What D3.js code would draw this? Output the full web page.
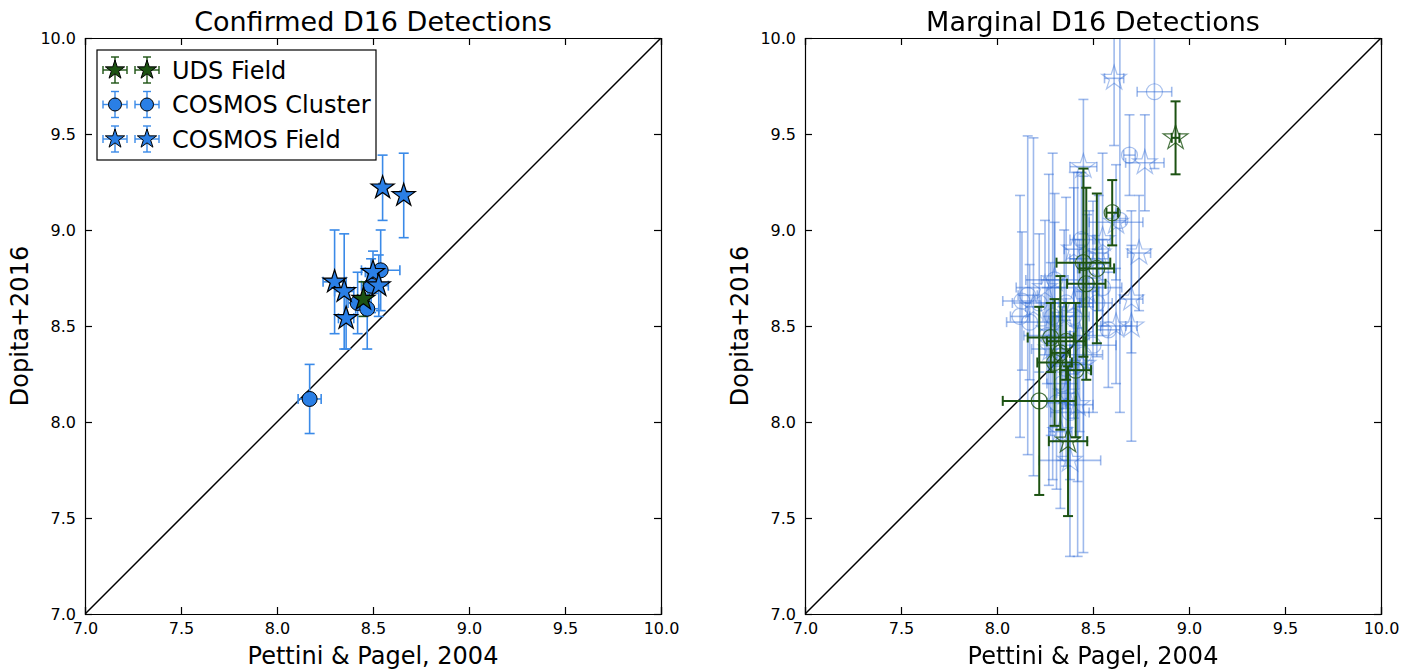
<!DOCTYPE html>
<html>
<head>
<meta charset="utf-8">
<script src="https://cdn.jsdelivr.net/npm/d3@7"></script>
<style>
  body { margin: 0; background: #fff; }
  svg text { font-family: "DejaVu Sans", sans-serif; fill: #000; }
</style>
</head>
<body>
<div id="chart"></div>
<script>
// Tick values shared by both panels
const tickValues = [7.0, 7.5, 8.0, 8.5, 9.0, 9.5, 10.0];

// Left panel: confirmed detections  [x, y, xerr, yerr]
const confUdsField = [
  [8.45, 8.64, 0.03, 0.09]
];
const confCosmosCluster = [
  [8.17, 8.12, 0.06, 0.18],
  [8.54, 8.79, 0.10, 0.21],
  [8.42, 8.62, 0.05, 0.16],
  [8.47, 8.59, 0.06, 0.21],
  [8.49, 8.71, 0.05, 0.14]
];
const confCosmosField = [
  [8.55, 9.22, 0.02, 0.17],
  [8.66, 9.18, 0.02, 0.22],
  [8.30, 8.73, 0.06, 0.27],
  [8.35, 8.68, 0.05, 0.30],
  [8.36, 8.54, 0.04, 0.16],
  [8.50, 8.78, 0.04, 0.11],
  [8.53, 8.71, 0.05, 0.16]
];

// Right panel: marginal detections  [x, y, xerr, yerr]
const margUdsCircles = [
  [8.60, 9.09, 0.03, 0.17],
  [8.45, 8.83, 0.14, 0.49],
  [8.52, 8.80, 0.09, 0.39],
  [8.465, 8.72, 0.10, 0.50],
  [8.28, 8.44, 0.12, 0.18],
  [8.36, 8.42, 0.10, 0.20],
  [8.30, 8.31, 0.09, 0.33],
  [8.41, 8.27, 0.08, 0.35],
  [8.22, 8.11, 0.19, 0.49],
  [8.33, 8.36, 0.05, 0.40]
];
const margUdsStars = [
  [8.93, 9.48, 0.02, 0.19],
  [8.37, 7.90, 0.10, 0.39]
];
const margCosmosCluster = [
  [8.82, 9.72, 0.09, 0.40],
  [8.69, 9.39, 0.03, 0.21],
  [8.55, 8.70, 0.10, 0.25],
  [8.13, 8.63, 0.10, 0.36],
  [8.17, 8.52, 0.12, 0.30],
  [8.30, 8.74, 0.15, 0.30],
  [8.22, 8.62, 0.14, 0.36],
  [8.40, 8.55, 0.08, 0.30],
  [8.44, 8.95, 0.06, 0.35],
  [8.48, 8.85, 0.10, 0.25],
  [8.34, 8.20, 0.08, 0.40],
  [8.38, 8.05, 0.10, 0.35],
  [8.26, 8.45, 0.12, 0.25],
  [8.52, 8.62, 0.08, 0.28],
  [8.45, 8.35, 0.10, 0.45],
  [8.33, 8.30, 0.06, 0.40],
  [8.58, 8.48, 0.06, 0.30],
  [8.16, 8.66, 0.05, 0.83],
  [8.29, 8.55, 0.05, 0.85],
  [8.12, 8.55, 0.05, 0.63],
  [8.42, 8.30, 0.04, 1.00],
  [8.64, 9.05, 0.03, 1.00],
  [8.36, 8.62, 0.07, 0.55],
  [8.31, 8.10, 0.05, 0.45],
  [8.50, 8.40, 0.12, 0.35]
];
const margCosmosField = [
  [8.61, 9.79, 0.05, 0.35],
  [8.77, 9.35, 0.10, 0.25],
  [8.45, 9.33, 0.07, 0.35],
  [8.62, 9.04, 0.14, 0.30],
  [8.40, 8.90, 0.05, 0.40],
  [8.74, 8.88, 0.06, 0.30],
  [8.30, 8.74, 0.07, 0.45],
  [8.70, 8.64, 0.06, 0.28],
  [8.62, 8.50, 0.08, 0.30],
  [8.38, 7.80, 0.16, 0.50],
  [8.42, 8.09, 0.08, 0.40],
  [8.36, 8.15, 0.05, 0.38],
  [8.50, 8.80, 0.08, 0.35],
  [8.35, 8.55, 0.06, 0.45],
  [8.28, 8.38, 0.10, 0.45],
  [8.47, 8.68, 0.06, 0.40],
  [8.55, 8.95, 0.04, 0.45],
  [8.33, 7.95, 0.06, 0.40],
  [8.43, 8.45, 0.05, 0.50],
  [8.19, 8.60, 0.04, 0.88],
  [8.27, 8.48, 0.05, 0.81],
  [8.70, 8.50, 0.03, 0.60],
  [8.45, 8.30, 0.04, 0.98],
  [8.25, 8.70, 0.15, 0.35],
  [8.40, 8.62, 0.10, 0.60],
  [8.53, 8.88, 0.05, 0.30]
];

const legendItems = [
  { label: "UDS Field", shape: "star", color: "#1c5212", bar: "#1c5212" },
  { label: "COSMOS Cluster", shape: "circle", color: "#2a7fe6", bar: "#3a8ae8" },
  { label: "COSMOS Field", shape: "star", color: "#2a7fe6", bar: "#3a8ae8" }
];

const W = 1416, H = 671;
const svg = d3.select("#chart").append("svg")
    .attr("width", W)
    .attr("height", H);

const starPath = s => d3.symbol().type(d3.symbolStar).size(s)();

function makePanel(left, title, idx) {
    const x = d3.scaleLinear().domain([7, 10]).range([left, left + 576]);
    const y = d3.scaleLinear().domain([7, 10]).range([614, 38]);

    svg.append("clipPath").attr("id", "clip" + idx)
        .append("rect")
        .attr("x", x(7)).attr("y", y(10))
        .attr("width", x(10) - x(7)).attr("height", y(7) - y(10));

    const plot = svg.append("g").attr("clip-path", `url(#clip${idx})`);

    // 1:1 line
    plot.append("line")
        .attr("x1", x(7)).attr("y1", y(7))
        .attr("x2", x(10)).attr("y2", y(10))
        .attr("stroke", "#000").attr("stroke-width", 1.5);

    // axes frame with inward ticks
    const tick = 7;
    const ax = svg.append("g");
    ax.append("g").attr("transform", `translate(0,${y(7)})`)
        .call(d3.axisBottom(x).tickValues(tickValues).tickSize(-tick).tickPadding(9).tickFormat(d3.format(".1f")));
    ax.append("g").attr("transform", `translate(0,${y(10)})`)
        .call(d3.axisTop(x).tickValues(tickValues).tickSize(-tick).tickFormat(""));
    ax.append("g").attr("transform", `translate(${x(7)},0)`)
        .call(d3.axisLeft(y).tickValues(tickValues).tickSize(-tick).tickPadding(9).tickFormat(d3.format(".1f")));
    ax.append("g").attr("transform", `translate(${x(10)},0)`)
        .call(d3.axisRight(y).tickValues(tickValues).tickSize(-tick).tickFormat(""));
    ax.selectAll(".domain").attr("stroke", "#000").attr("stroke-width", 1.2);
    ax.selectAll(".tick line").attr("stroke", "#000").attr("stroke-width", 1.2);
    ax.selectAll(".tick text").attr("font-size", 16).attr("font-family", "DejaVu Sans");

    // titles and labels
    svg.append("text")
        .attr("x", (x(7) + x(10)) / 2).attr("y", 31)
        .attr("text-anchor", "middle").attr("font-size", 27)
        .text(title);
    svg.append("text")
        .attr("x", (x(7) + x(10)) / 2).attr("y", 664)
        .attr("text-anchor", "middle").attr("font-size", 24)
        .text("Pettini & Pagel, 2004");
    svg.append("text")
        .attr("transform", `translate(${left - 57},${y(8.5)}) rotate(-90)`)
        .attr("text-anchor", "middle").attr("font-size", 24)
        .text("Dopita+2016");

    return { x, y, plot };
}

function errorBars(g, x, y, data, color, width, cap, opacity) {
    const eb = g.append("g").attr("stroke", color).attr("stroke-width", width)
        .attr("stroke-opacity", opacity).attr("fill", "none");
    data.forEach(d => {
        const [px, py, xe, ye] = d;
        eb.append("line").attr("x1", x(px - xe)).attr("x2", x(px + xe)).attr("y1", y(py)).attr("y2", y(py));
        eb.append("line").attr("x1", x(px)).attr("x2", x(px)).attr("y1", y(py - ye)).attr("y2", y(py + ye));
        [px - xe, px + xe].forEach(v => eb.append("line")
            .attr("x1", x(v)).attr("x2", x(v)).attr("y1", y(py) - cap).attr("y2", y(py) + cap));
        [py - ye, py + ye].forEach(v => eb.append("line")
            .attr("x1", x(px) - cap).attr("x2", x(px) + cap).attr("y1", y(v)).attr("y2", y(v)));
    });
}

function markers(g, x, y, data, shape, fill, stroke, sw, opacity, size) {
    const m = g.append("g").attr("opacity", opacity);
    data.forEach(d => {
        if (shape === "circle") {
            m.append("circle").attr("cx", x(d[0])).attr("cy", y(d[1])).attr("r", size)
                .attr("fill", fill).attr("stroke", stroke).attr("stroke-width", sw);
        } else {
            m.append("path").attr("d", starPath(size))
                .attr("transform", `translate(${x(d[0])},${y(d[1])})`)
                .attr("fill", fill).attr("stroke", stroke).attr("stroke-width", sw)
                .attr("stroke-linejoin", "miter");
        }
    });
}

// ---- Left panel ----
const L = makePanel(85, "Confirmed D16 Detections", 0);
const blue = "#2a7fe6", blueBar = "#3a8ae8", green = "#1c5212";
errorBars(L.plot, L.x, L.y, confCosmosCluster, blueBar, 1.6, 5, 1);
errorBars(L.plot, L.x, L.y, confCosmosField, blueBar, 1.6, 5, 1);
errorBars(L.plot, L.x, L.y, confUdsField, green, 1.6, 5, 1);
markers(L.plot, L.x, L.y, confCosmosCluster, "circle", blue, "#000", 1, 1, 7.5);
markers(L.plot, L.x, L.y, confCosmosField, "star", blue, "#000", 1.2, 1, 165);
markers(L.plot, L.x, L.y, confUdsField, "star", green, "#000", 1.2, 1, 165);

// legend
const lg = svg.append("g").attr("transform", "translate(97,50)");
lg.append("rect").attr("width", 279).attr("height", 110)
    .attr("fill", "#fff").attr("stroke", "#000").attr("stroke-width", 1.2);
legendItems.forEach((it, i) => {
    const cy = 20 + i * 34.5;
    [18, 50].forEach(cx => {
        const g = lg.append("g").attr("transform", `translate(${cx},${cy})`);
        g.append("line").attr("x1", -12).attr("x2", 12).attr("stroke", it.bar).attr("stroke-width", 1.4);
        g.append("line").attr("y1", -13).attr("y2", 13).attr("stroke", it.bar).attr("stroke-width", 1.4);
        [-12, 12].forEach(v => g.append("line").attr("x1", v).attr("x2", v).attr("y1", -4).attr("y2", 4)
            .attr("stroke", it.bar).attr("stroke-width", 1.4));
        [-13, 13].forEach(v => g.append("line").attr("y1", v).attr("y2", v).attr("x1", -4).attr("x2", 4)
            .attr("stroke", it.bar).attr("stroke-width", 1.4));
        if (it.shape === "circle") {
            g.append("circle").attr("r", 6.5).attr("fill", it.color).attr("stroke", "#000").attr("stroke-width", 1);
        } else {
            g.append("path").attr("d", starPath(115)).attr("fill", it.color)
                .attr("stroke", "#000").attr("stroke-width", 1);
        }
    });
    lg.append("text").attr("x", 75).attr("y", cy + 8.5).attr("font-size", 24).text(it.label);
});

// ---- Right panel ----
const R = makePanel(805, "Marginal D16 Detections", 1);
const lightBlue = "#2a66d4", darkGreen = "#1c5212";
errorBars(R.plot, R.x, R.y, margCosmosCluster, lightBlue, 1.6, 5, 0.45);
errorBars(R.plot, R.x, R.y, margCosmosField, lightBlue, 1.6, 5, 0.45);
markers(R.plot, R.x, R.y, margCosmosCluster, "circle", "none", lightBlue, 1.2, 0.4, 8);
markers(R.plot, R.x, R.y, margCosmosField, "star", "none", lightBlue, 1.2, 0.4, 190);
errorBars(R.plot, R.x, R.y, margUdsCircles, darkGreen, 2, 5, 1);
errorBars(R.plot, R.x, R.y, margUdsStars, darkGreen, 2, 5, 1);
markers(R.plot, R.x, R.y, margUdsCircles, "circle", "none", darkGreen, 1.2, 0.8, 8);
markers(R.plot, R.x, R.y, margUdsStars, "star", "none", darkGreen, 1.2, 0.8, 190);
</script>
</body>
</html>
